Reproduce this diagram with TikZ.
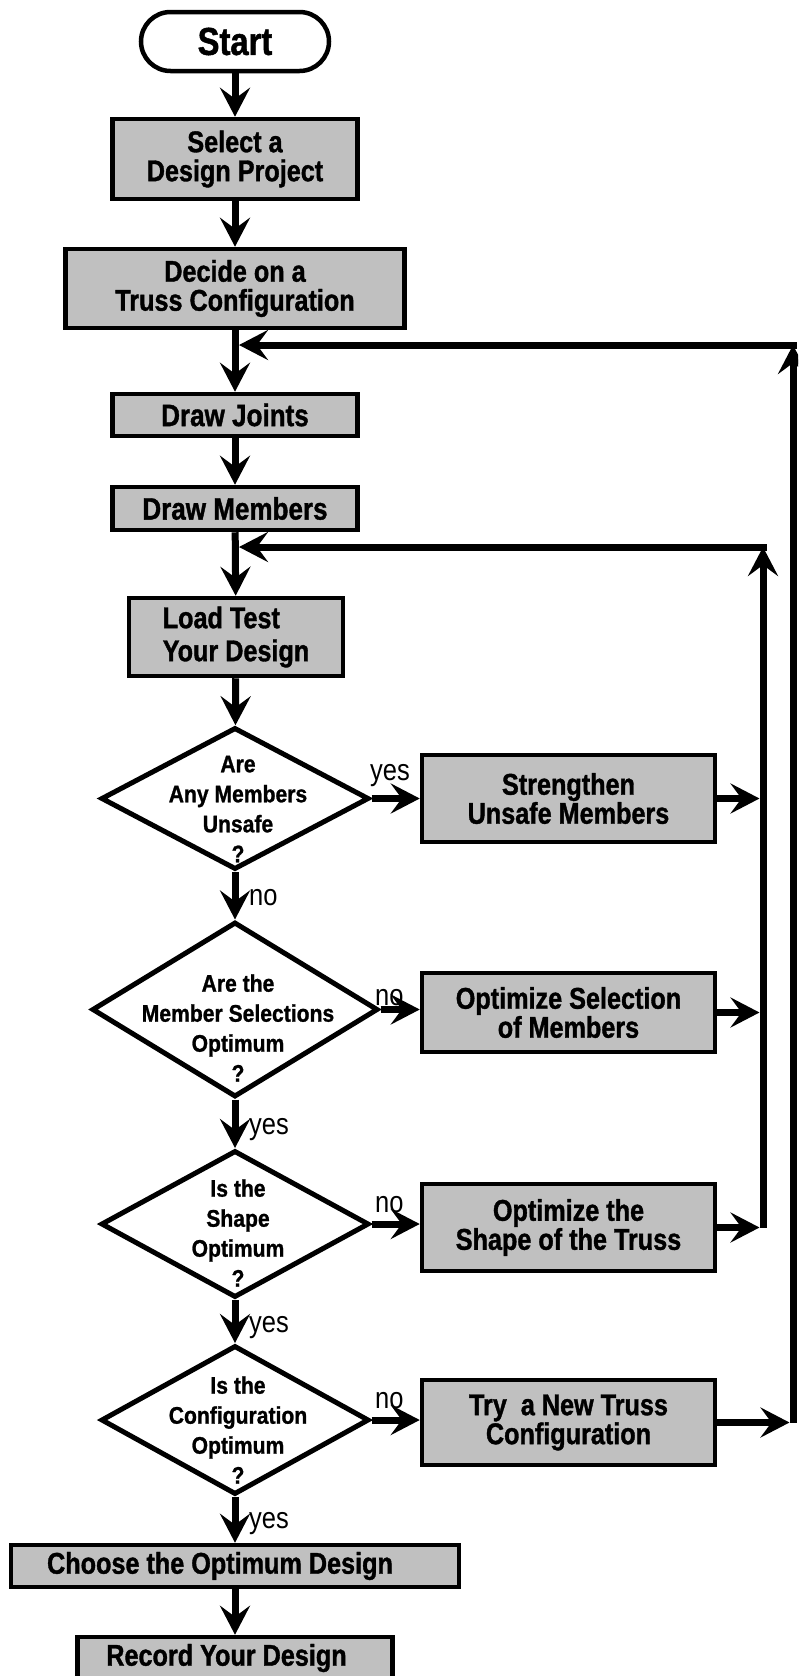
\documentclass[tikz,border=0pt]{standalone}
\usepackage{fontspec}
\setmainfont{Liberation Sans}
\newfontfamily\bxfont{Liberation Sans}[FakeStretch=0.84,FakeBold=1.2]
\newfontfamily\dfont{Liberation Sans}[FakeStretch=0.88,FakeBold=1.0]
\newfontfamily\lfont{Liberation Sans}[FakeStretch=0.85]
\usetikzlibrary{arrows.meta,shapes.geometric}
\definecolor{boxgray}{RGB}{192,192,192}
\begin{document}
\begin{tikzpicture}[x=1pt,y=-1pt,
  procbox/.style={draw, line width=4.5pt, fill=boxgray, inner sep=0pt, align=center,
    font=\bxfont\bfseries\fontsize{30}{29}\selectfont},
  decbox/.style={draw, line width=5pt, diamond, inner sep=0pt, fill=white},
  dtext/.style={align=center, inner sep=0pt, font=\dfont\bfseries\fontsize{24}{30}\selectfont},
  lbl/.style={inner sep=0pt, anchor=base west, font=\lfont\fontsize{30}{30}\selectfont},
  arr/.style={line width=7pt, -{Stealth[length=29pt,width=30pt,inset=11pt]}},
  ln/.style={line width=7pt}
]
\useasboundingbox (0,0) rectangle (798,1676);
\clip (0,0) rectangle (798,1676);

% main column
\node[procbox, fill=white, rounded corners=29.5pt, minimum width=188pt, minimum height=59pt,
  font=\bxfont\bfseries\fontsize{39}{39}\selectfont] (start) at (235,41.5) {Start};
\node[procbox, minimum width=245pt, minimum height=80pt] (select) at (235,159) {Select a\\Design Project};
\node[procbox, minimum width=339pt, minimum height=79pt] (decide) at (235,288.5) {Decide on a\\Truss Configuration};
\node[procbox, minimum width=245pt, minimum height=42pt, font=\bxfont\bfseries\fontsize{31}{31}\selectfont] (joints) at (235,415) {Draw Joints};
\node[procbox, minimum width=245pt, minimum height=43pt, font=\bxfont\bfseries\fontsize{31}{31}\selectfont] (members) at (235,508.5) {Draw Members};
\node[procbox, minimum width=214pt, minimum height=78pt, align=left,
  font=\bxfont\bfseries\fontsize{30}{33}\selectfont] (load) at (236,637) {Load Test\\Your Design};

\node[decbox, minimum width=268pt, minimum height=142pt] (d1) at (235,798.5) {};
\node[dtext] (t1) at (238,809) {Are\\Any Members\\Unsafe\\?};
\node[decbox, minimum width=286pt, minimum height=175pt] (d2) at (235,1009.5) {};
\node[dtext] (t2) at (238,1028) {Are the\\Member Selections\\Optimum\\?};
\node[decbox, minimum width=268pt, minimum height=147pt] (d3) at (235,1224) {};
\node[dtext] (t3) at (238,1233) {Is the\\Shape\\Optimum\\?};
\node[decbox, minimum width=268pt, minimum height=149pt] (d4) at (235,1420) {};
\node[dtext] (t4) at (238,1430) {Is the\\Configuration\\Optimum\\?};

\node[procbox, minimum width=448pt, minimum height=42pt] (choose) at (235,1566) {Choose the Optimum Design\hspace*{30pt}};
\node[procbox, minimum width=315pt, minimum height=42pt] (record) at (235,1658) {Record Your Design\hspace*{17pt}};

% right column
\node[procbox, minimum width=293pt, minimum height=87pt] (s1) at (568.5,798.5) {Strengthen\\Unsafe Members};
\node[procbox, minimum width=293pt, minimum height=79pt] (s2) at (568.5,1012.5) {Optimize Selection\\of Members};
\node[procbox, minimum width=293pt, minimum height=87pt] (s3) at (568.5,1227.5) {Optimize the\\Shape of the Truss};
\node[procbox, minimum width=293pt, minimum height=85pt] (s4) at (568.5,1422.5) {Try\ \ a New Truss\\Configuration};

% feedback coordinates
\coordinate (il) at (759.5,0);
\coordinate (ol) at (789.5,0);
\coordinate (ib) at (763,1227.5);
\coordinate (ia) at (763,547);
\coordinate (ic) at (766.5,547);
\coordinate (m2) at (239,547);
\coordinate (ob) at (793,1422.5);
\coordinate (oa) at (793,345);
\coordinate (oc) at (796.5,345);
\coordinate (m1) at (239,345);

% main arrows
\draw[arr] (start) -- (select);
\draw[arr] (select) -- (decide);
\draw[arr] (decide) -- (joints);
\draw[arr] (joints) -- (members);
\draw[arr] (members) -- (load);
\draw[arr] (load) -- (d1);
\draw[arr] (d1) -- (d2);
\draw[arr] (d2) -- (d3);
\draw[arr] (d3) -- (d4);
\draw[arr] (d4) -- (choose);
\draw[arr] (choose) -- (record);

% decision branches
\draw[arr] (d1.east) -- (d1.east -| s1.west);
\draw[arr] (d2.east) -- (d2.east -| s2.west);
\draw[arr] (d3.east) -- (d3.east -| s3.west);
\draw[arr] (d4.east) -- (d4.east -| s4.west);

% to feedback lines
\draw[arr] (s1.east) -- (s1.east -| il);
\draw[arr] (s2.east) -- (s2.east -| il);
\draw[arr] (s3.east) -- (s3.east -| il);
\draw[arr] (s4.east) -- (s4.east -| ol);

\draw[arr] (ib) -- (ia);
\draw[arr] (ic) -- (m2);
\draw[arr] (ob) -- (oa);
\draw[arr] (oc) -- (m1);

% labels
\node[lbl] (y1) at (370,780) {yes};
\node[lbl] (n1) at (249,905) {no};
\node[lbl] (n2) at (375,1005) {no};
\node[lbl] (y2) at (249,1134) {yes};
\node[lbl] (n3) at (375,1212) {no};
\node[lbl] (y3) at (249,1332) {yes};
\node[lbl] (n4) at (375,1408) {no};
\node[lbl] (y4) at (249,1528) {yes};
\end{tikzpicture}
\end{document}
